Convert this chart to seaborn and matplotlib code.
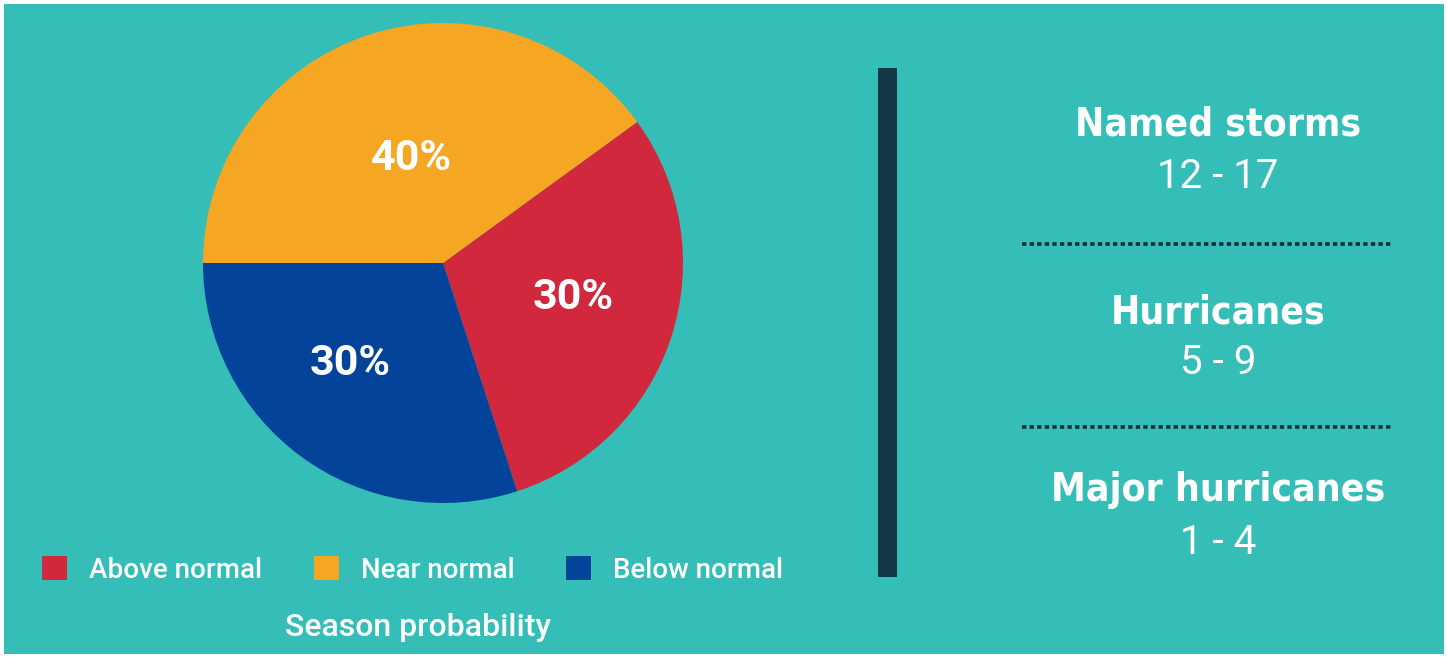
import matplotlib
matplotlib.use("Agg")
import matplotlib.pyplot as plt
from matplotlib.patches import Patch, Rectangle
import seaborn as sns

# season probability (pie)
categories = ["Above normal", "Near normal", "Below normal"]
probabilities = [30, 40, 30]
slice_colors = ["#D2283D", "#F5A623", "#03449A"]

# outlook ranges (right panel)
storm_types = ["Named storms", "Hurricanes", "Major hurricanes"]
storm_ranges = ["12 - 17", "5 - 9", "1 - 4"]

TEAL = "#35BDB8"
NAVY = "#143746"

sns.set_theme(style="white")
plt.rcParams["font.family"] = ["Roboto", "DejaVu Sans"]

W, H = 1447, 657
fig = plt.figure(figsize=(W / 100, H / 100), dpi=100, facecolor="white")

# overlay axes in pixel coordinates for background, divider and panel text
bg = fig.add_axes([0, 0, 1, 1])
bg.set_xlim(0, W)
bg.set_ylim(H, 0)
bg.axis("off")
bg.add_patch(Rectangle((4, 4), W - 7, H - 7, facecolor=TEAL, edgecolor="none"))

# pie
cx, cy, r = 443, 263, 240
ax = fig.add_axes([(cx - r) / W, (H - cy - r) / H, 2 * r / W, 2 * r / H])
wedges, _, autotexts = ax.pie(
    probabilities,
    colors=slice_colors,
    startangle=-72,
    counterclock=True,
    autopct="%d%%",
    pctdistance=0.52,
    wedgeprops=dict(linewidth=0),
    textprops=dict(color="white", fontsize=31, fontweight="bold"),
)
ax.set_xlim(-1, 1)
ax.set_ylim(-1, 1)
ax.set_aspect("equal")
ax.axis("off")

# nudge the percentage labels to where the original places them
nudges = [(0.046, 0.017), (0.03, -0.06), (-0.08, 0.0)]
for t, (dx, dy) in zip(autotexts, nudges):
    x, y = t.get_position()
    t.set_position((x + dx, y + dy))

# legend
handles = [Patch(facecolor=c, edgecolor="none") for c in slice_colors]
leg = fig.legend(
    handles, categories, ncol=3, loc="center left",
    bbox_to_anchor=(17 / W, 1 - 570 / H), frameon=False,
    handlelength=0.9, handleheight=0.9, handletextpad=0.8,
    columnspacing=1.85,
    prop=dict(size=20, weight="medium"),
)
for t in leg.get_texts():
    t.set_color("white")

bg.text(418, 627, "Season probability", color="white", fontsize=23,
        fontweight="medium", ha="center", va="center")

# divider bar
bg.add_patch(Rectangle((878, 68), 19, 509, facecolor=NAVY, edgecolor="none"))

# right panel
title_y = [125, 312, 490]
range_y = [177, 362, 543]
for name, rng, ty, ry in zip(storm_types, storm_ranges, title_y, range_y):
    bg.text(1218, ty, name, color="white", fontsize=28, fontweight="bold",
            fontstretch="condensed", family=["DejaVu Sans"],
            ha="center", va="center")
    bg.text(1218, ry, rng, color="white", fontsize=29, fontweight="normal",
            ha="center", va="center")

for y in [244, 427]:
    bg.plot([1022, 1393], [y, y], color="#1B2B33", linewidth=2.6,
            linestyle=(0, (1.2, 0.9)), solid_capstyle="butt")

fig.savefig("out.png", dpi=100, facecolor="white")
